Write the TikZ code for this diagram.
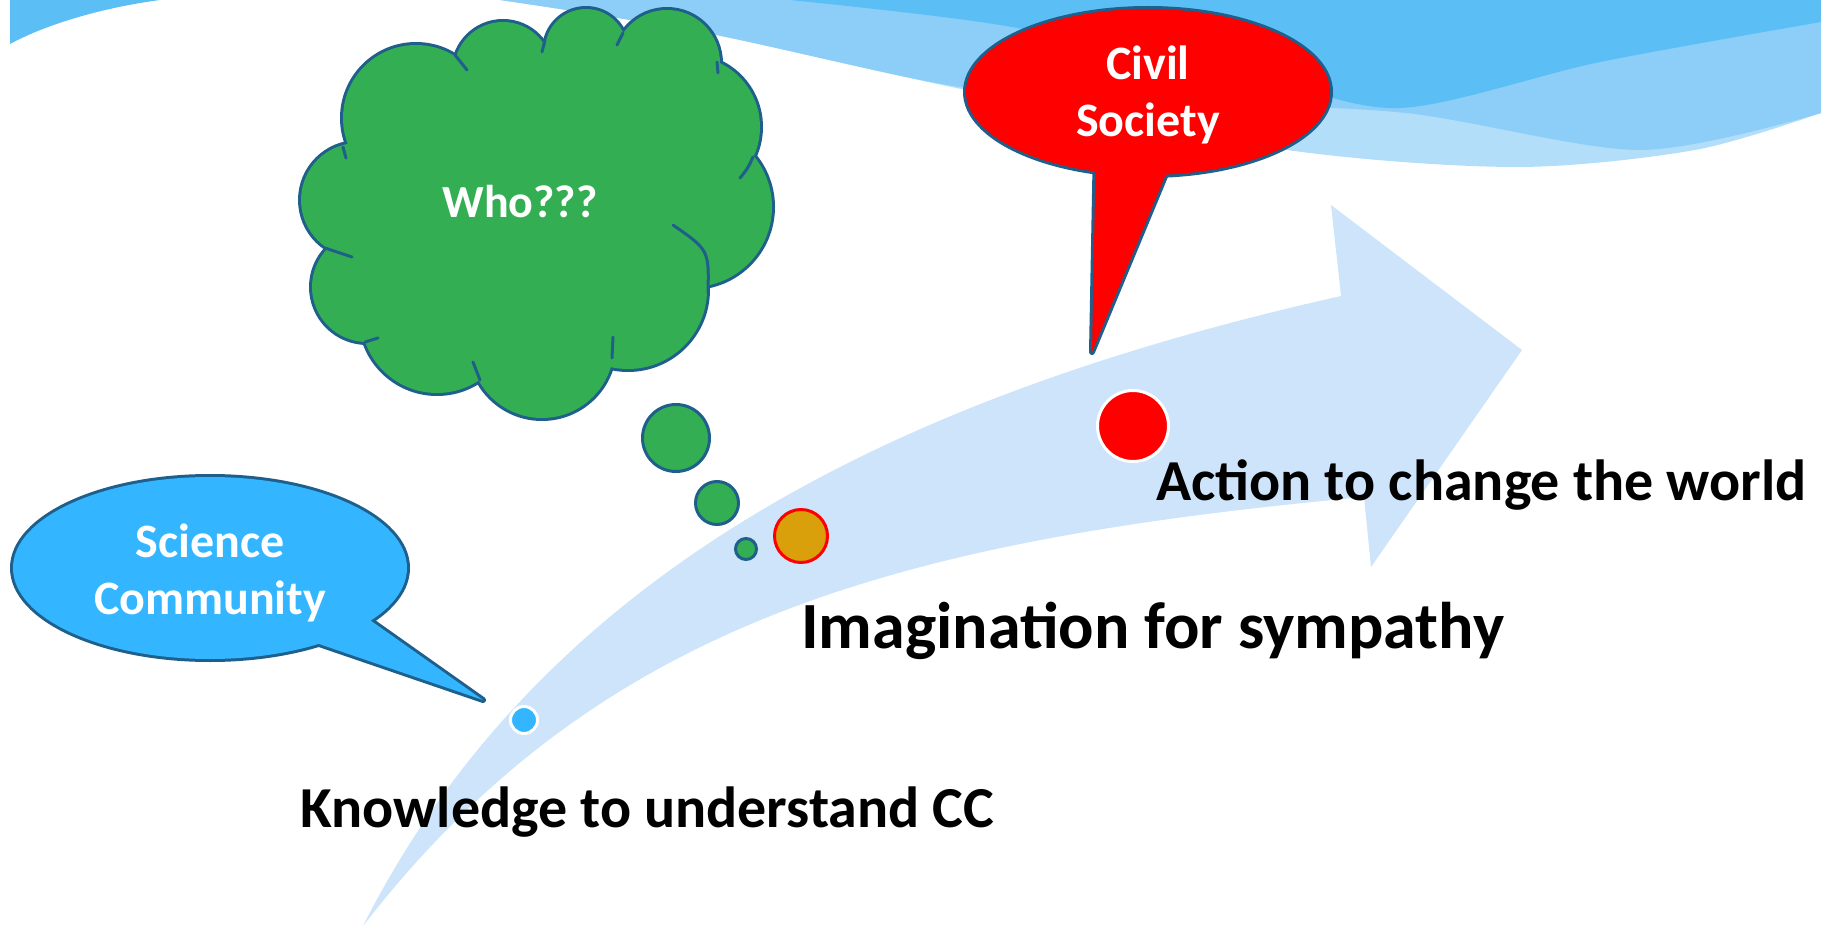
\documentclass[tikz,border=0pt]{standalone}
\usepackage{fontspec}
\setmainfont{Carlito}
\definecolor{bannerdark}{RGB}{91,190,245}
\definecolor{bannermid}{RGB}{140,206,248}
\definecolor{bannerpale}{RGB}{178,222,250}
\definecolor{arrowblue}{RGB}{205,228,251}
\definecolor{cloudgreen}{RGB}{52,174,82}
\definecolor{edgeblue}{RGB}{31,95,139}
\definecolor{sciblue}{RGB}{51,182,255}
\definecolor{dotorange}{RGB}{217,160,11}

\begin{document}
\begin{tikzpicture}[x=1pt,y=-1pt,
	puffedge/.style={draw=edgeblue, line width=6pt, fill=cloudgreen},
	balloonedge/.style={draw=edgeblue, line width=6pt, line join=round},
	bubble/.style={circle, draw=edgeblue, line width=3pt, fill=cloudgreen, inner sep=0},
	dot/.style={circle, line width=3pt, inner sep=0},
	baltext/.style={text=white, font=\bfseries\fontsize{48}{57}\selectfont, inner sep=0},
	stagetext/.style={anchor=base west, inner sep=0}]
				\useasboundingbox (0,0) rectangle (1821,928);
				% banner at the top
				\fill[bannerpale] plot[smooth] coordinates {(500,0) (706,33) (966,90) (1287,150) (1517,167) (1695,150) (1821,113)} -- (1821,0) -- cycle;
				\fill[bannermid] plot[smooth] coordinates {(500,0) (706,33) (966,88) (1180,102) (1406,113) (1640,150) (1821,113)} -- (1821,0) -- cycle;
				\fill[bannerdark] plot[smooth] coordinates {(790,0) (1000,25) (1250,75) (1400,108) (1600,62) (1821,22)} -- (1821,0) -- cycle;
				\fill[bannerdark] (10,0) -- (10,44) .. controls (45,25) and (100,8) .. (160,0) -- cycle;
				% the big arrow
				\fill[arrowblue] (363,926) .. controls (543,570) and (900,395) .. (1341,296) -- (1331,205) -- (1522,350) -- (1371,567) -- (1364,497) .. controls (900,540) and (600,620) .. (363,926) -- cycle;
				% science balloon
				\draw[balloonedge, fill=sciblue] (210,568) ellipse[x radius=197, y radius=91];
				\draw[balloonedge, fill=sciblue] (350,606) -- (483,700) -- (284,632) -- cycle;
				\fill[sciblue] (210,568) ellipse[x radius=197, y radius=91];
				\fill[sciblue] (350,606) -- (483,700) -- (284,632) -- cycle;
				\node[baltext, align=center] (sci) at (210,573) {Science\\Community};
				% civil society balloon
				\draw[balloonedge, fill=red] (1148,92) ellipse[x radius=182, y radius=83];
				\draw[balloonedge, fill=red] (1096,140) -- (1092,352) -- (1178,145) -- cycle;
				\fill[red] (1148,92) ellipse[x radius=182, y radius=83];
				\fill[red] (1096,140) -- (1092,352) -- (1178,145) -- cycle;
				\node[baltext, align=center] (civ) at (1148,95) {Civil\\Society};
				% thought cloud
				\foreach \cx/\cy/\r in {416/118/73, 503/71/49, 586/50/41, 667/63/53, 689/127/71, 692/207/80, 628/290/79, 542/346/72, 437/317/76, 367/287/55, 358/200/57}
					\draw[puffedge] (\cx,\cy) circle[radius=\r];
				\foreach \cx/\cy/\r in {416/118/73, 503/71/49, 586/50/41, 667/63/53, 689/127/71, 692/207/80, 628/290/79, 542/346/72, 437/317/76, 367/287/55, 358/200/57}
					\fill[cloudgreen] (\cx,\cy) circle[radius=\r];
				\fill[cloudgreen] (540,210) ellipse[x radius=170, y radius=120];
				\fill[cloudgreen] (585,110) ellipse[x radius=75, y radius=55];
				\draw[edgeblue, line width=3pt, line cap=round] (455,55) -- (467,70) (545,40) -- (542,52) (623,33) -- (617,45) (717,62) -- (718,73)
					(753,157) .. controls (748,168) .. (740,178) (673,225) .. controls (709,250) .. (708,293)
					(613,337) -- (612,358) (473,362) -- (480,380) (365,342) -- (378,338) (325,248) -- (352,257) (343,147) -- (346,158);
				\node[baltext, anchor=base, font=\bfseries\fontsize{46}{55}\selectfont] (who) at (520,218) {Who???};
				\node[bubble, minimum size=67pt] (bub1) at (676,438) {};
				\node[bubble, minimum size=43pt] (bub2) at (717,503) {};
				\node[bubble, minimum size=21pt] (bub3) at (746,549) {};
				% stages along the arrow
				\node[dot, draw=white, fill=sciblue, minimum size=27pt] (knowdot) at (524,720) {};
				\node[dot, draw=red, fill=dotorange, minimum size=53pt] (imagdot) at (801,536) {};
				\node[dot, draw=white, fill=red, minimum size=71pt] (actdot) at (1133,426) {};
				\node[stagetext, font=\bfseries\fontsize{58}{69}\selectfont] (know) at (300,827) {Knowledge to understand CC};
				\node[stagetext, font=\bfseries\fontsize{66}{79}\selectfont] (imag) at (801,648) {Imagination for sympathy};
				\node[stagetext, font=\bfseries\fontsize{58}{69}\selectfont] (act) at (1156,500) {Action to change the world};
			\end{tikzpicture}
\end{document}
